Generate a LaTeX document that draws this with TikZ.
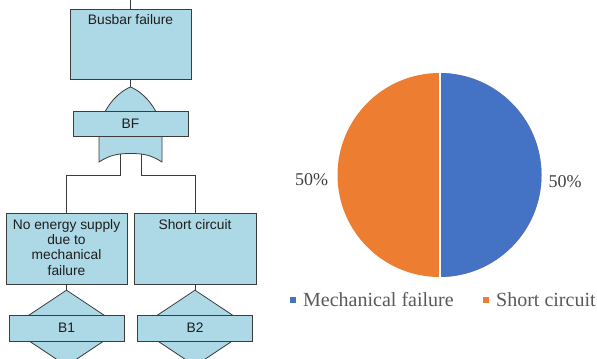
\documentclass[tikz,border=0pt]{standalone}
\usepackage{fontspec}
\setmainfont{Liberation Serif}
\newfontfamily\treefont{Liberation Sans}
\usetikzlibrary{shapes.geometric}
\definecolor{boxfill}{RGB}{173,216,230}
\definecolor{edge}{RGB}{60,60,60}
\definecolor{treeink}{RGB}{30,30,30}
\definecolor{pieblue}{HTML}{4472C4}
\definecolor{pieorange}{HTML}{ED7D31}
\definecolor{legendgray}{HTML}{595959}
\definecolor{pctgray}{HTML}{404040}
\begin{document}
\begin{tikzpicture}[x=1bp,y=-1bp,
  shape fill/.style={draw=edge, fill=boxfill, line width=0.8bp},
  eventbox/.style={shape fill, rectangle, inner sep=0pt},
  basicdiamond/.style={shape fill, diamond, inner sep=0pt, minimum width=114bp, minimum height=76bp},
  treetext/.style={font=\treefont\fontsize{13.8bp}{15.3bp}\selectfont, text=treeink, align=center, inner sep=0pt},
  wire/.style={draw=edge, line width=0.8bp},
  pcttext/.style={font=\fontsize{18bp}{20bp}\selectfont, text=pctgray, inner sep=0pt},
  legtext/.style={font=\fontsize{20bp}{22bp}\selectfont, text=legendgray, inner sep=0pt},
  legkey/.style={rectangle, minimum size=6bp, inner sep=0pt}
]
\useasboundingbox (0,0) rectangle (597,358);

% ---- fault tree ----
\node[eventbox, minimum width=121bp, minimum height=70bp] (top) at (130.5,44) {};
\node[treetext, anchor=north] (toptext) at ([yshift=-5.5bp]top.north) {Busbar failure};
\coordinate (topin) at (130.5,0);
\draw[wire] (topin) -- (top.north);

% OR gate with its label bar
\draw[shape fill] (99,162) -- (99,137)
  .. controls (99,110) and (118,92) .. (130.5,87)
  .. controls (143,92) and (162,110) .. (162,137)
  -- (162,162)
  .. controls (150,154) and (140,153.5) .. (130.5,153.5)
  .. controls (121,153.5) and (111,154) .. (99,162) -- cycle;
\coordinate (gatetop) at (130.5,87);
\coordinate (gateL) at (120.5,153.7);
\coordinate (gateR) at (141,153.7);
\node[eventbox, minimum width=115bp, minimum height=25bp] (bf) at (130.5,123.5) {};
\node[treetext] (bftext) at (bf.center) {BF};
\draw[wire] (top.south) -- (gatetop);

% intermediate events
\node[eventbox, minimum width=121bp, minimum height=71bp] (left) at (66.5,248.5) {};
\node[treetext, anchor=north] (lefttext) at ([yshift=-6.5bp]left.north) {No energy supply\\due to\\mechanical\\failure};
\node[eventbox, minimum width=122bp, minimum height=71bp] (right) at (195,248.5) {};
\node[treetext, anchor=north] (righttext) at ([yshift=-6.5bp]right.north) {Short circuit};

\coordinate (jL) at (66.5,175);
\coordinate (jR) at (195,175);
\draw[wire] (gateL) |- (jL) -- (left.north);
\draw[wire] (gateR) |- (jR) -- (right.north);

% basic events
\node[basicdiamond] (d1) at (66.5,328) {};
\node[eventbox, minimum width=115bp, minimum height=26bp] (b1) at (66.5,328) {};
\node[treetext] (b1text) at (b1.center) {B1};
\node[basicdiamond] (d2) at (195,328) {};
\node[eventbox, minimum width=115bp, minimum height=26bp] (b2) at (195,328) {};
\node[treetext] (b2text) at (b2.center) {B2};
\draw[wire] (left.south) -- (d1.north);
\draw[wire] (right.south) -- (d2.north);

% ---- pie chart ----
\coordinate (pc) at (439.5,175);
\fill[pieorange] (pc) circle[radius=102];
\begin{scope}
  \clip (439.5,60) rectangle (560,290);
  \fill[pieblue] (pc) circle[radius=102];
\end{scope}
\coordinate (ptop) at (439.5,72);
\coordinate (pbot) at (439.5,278);
\draw[white, line width=2bp] (ptop) -- (pbot);

\node[pcttext] (pctL) at (311.5,180) {50\%};
\node[pcttext] (pctR) at (565,181.5) {50\%};

% legend
\node[legkey, fill=pieblue] (k1) at (293,300) {};
\node[legtext, anchor=base west] (l1) at (303,306) {Mechanical failure};
\node[legkey, fill=pieorange] (k2) at (486,300) {};
\node[legtext, anchor=base west] (l2) at (496,306) {Short circuit};
\end{tikzpicture}
\end{document}
